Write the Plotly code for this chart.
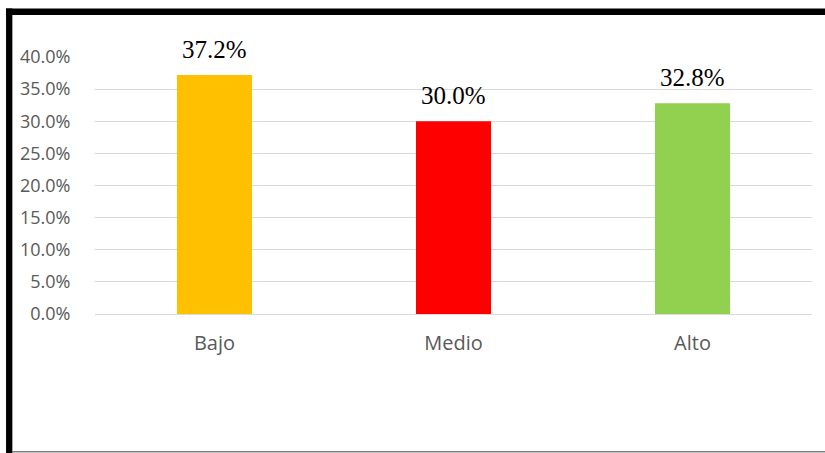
import plotly.graph_objects as go

categories = ["Bajo", "Medio", "Alto"]
values = [0.372, 0.300, 0.328]
colors = ["#FFC000", "#FF0000", "#92D050"]
labels = ["37.2%", "30.0%", "32.8%"]

W, H = 825, 453
ML, MR, MT, MB = 95, 13, 57, 139
PW, PH = W - ML - MR, H - MT - MB

def px(x):
    return (x - ML) / PW

def py(y):
    return (H - MB - y) / PH

fig = go.Figure()
fig.add_trace(go.Bar(
    x=categories, y=values, marker=dict(color=colors, line=dict(width=0)),
    width=0.314, hoverinfo="skip",
))

for c, v, t in zip(categories, values, labels):
    fig.add_annotation(x=c, y=v, text=t, showarrow=False, yanchor="bottom",
                       yshift=10, font=dict(family="Liberation Serif", size=25, color="#000000"))

shapes = [
    dict(type="line", xref="paper", yref="paper", x0=px(9.2), x1=px(9.2), y0=py(8.5), y1=py(H),
         line=dict(color="#000000", width=6.3)),
    dict(type="line", xref="paper", yref="paper", x0=px(6), x1=px(W), y0=py(11.7), y1=py(11.7),
         line=dict(color="#000000", width=6.5)),
    dict(type="line", xref="paper", yref="paper", x0=px(12), x1=px(W), y0=py(451.8), y1=py(451.8),
         line=dict(color="#7f7f7f", width=1.5)),
]

fig.update_layout(
    width=W, height=H,
    margin=dict(l=ML, r=MR, t=MT, b=MB, pad=0),
    paper_bgcolor="white", plot_bgcolor="white",
    showlegend=False,
    shapes=shapes,
    xaxis=dict(showgrid=False, zeroline=False, showline=False,
               ticks="outside", ticklen=11, tickcolor="rgba(0,0,0,0)",
               tickfont=dict(size=20, color="#595959", family="Open Sans")),
    yaxis=dict(range=[0, 0.4], dtick=0.05, tickformat=".1%",
               showgrid=True, gridcolor="#d9d9d9", gridwidth=1.4,
               zeroline=True, zerolinecolor="#d9d9d9", zerolinewidth=1.4,
               showline=False, ticks="outside", ticklen=20, tickcolor="rgba(0,0,0,0)",
               tickfont=dict(size=18, color="#595959", family="Open Sans")),
)

fig.write_html("out.html")
